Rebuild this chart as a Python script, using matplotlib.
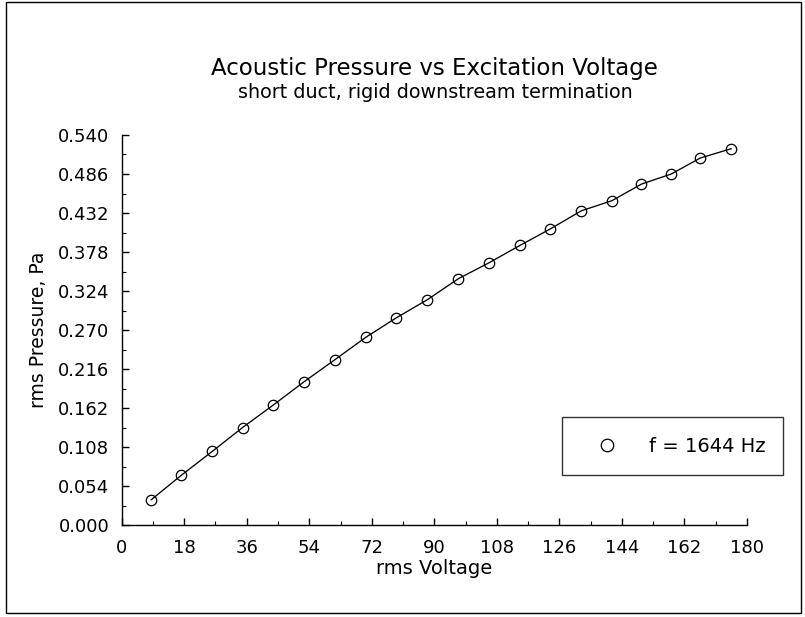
import matplotlib
matplotlib.use("Agg")
import matplotlib.pyplot as plt
from matplotlib.patches import Rectangle
from matplotlib.ticker import MultipleLocator

# --- DATA ---
voltage = [8.5, 17.2, 26.1, 34.8, 43.6, 52.4, 61.4, 70.3, 79.1, 88.0,
           96.9, 105.7, 114.6, 123.4, 132.3, 141.1, 149.6, 158.2, 166.5, 175.4]
pressure = [0.035, 0.069, 0.102, 0.135, 0.166, 0.198, 0.229, 0.260, 0.287, 0.312,
            0.341, 0.363, 0.387, 0.410, 0.435, 0.449, 0.472, 0.486, 0.508, 0.521]
x_ticks = [0, 18, 36, 54, 72, 90, 108, 126, 144, 162, 180]
y_ticks = [0.000, 0.054, 0.108, 0.162, 0.216, 0.270, 0.324, 0.378, 0.432, 0.486, 0.540]
series_label = "f = 1644 Hz"

plt.rcParams["font.family"] = ["DejaVu Sans"]
W, H = 805, 617
fig = plt.figure(figsize=(W / 100, H / 100), dpi=100)
ax = fig.add_axes([121.7 / W, 1 - 525 / H, (747 - 121.7) / W, 390 / H])

# line first, then open circles on top of it
ax.plot(voltage, pressure, "-", color="black", lw=0.95)
ax.plot(voltage, pressure, "o", color="black", mfc="none", ms=7.5, mew=0.9,
        label=series_label)

ax.set_xlim(0, 180)
ax.set_ylim(0, 0.540)
ax.set_xticks(x_ticks)
ax.set_yticks(y_ticks)
ax.set_xticklabels([str(t) for t in x_ticks])
ax.set_yticklabels(["%.3f" % t for t in y_ticks])
ax.xaxis.set_minor_locator(MultipleLocator(9))
ax.yaxis.set_minor_locator(MultipleLocator(0.027))

ax.spines["top"].set_visible(False)
ax.spines["right"].set_visible(False)
for s in ("left", "bottom"):
    ax.spines[s].set_linewidth(1.0)

ax.tick_params(which="major", direction="in", length=5, width=1.0,
               labelsize=13, colors="black")
ax.tick_params(which="minor", direction="in", length=3, width=0.8)
ax.tick_params(axis="y", which="major", pad=9)
ax.tick_params(axis="x", which="major", pad=10)

ax.set_xlabel("rms Voltage", fontsize=14)
ax.xaxis.set_label_coords(0.5, (525 - 568) / 390)
ax.xaxis.label.set_va("center")
ax.set_ylabel("rms Pressure, Pa", fontsize=13.5)
ax.yaxis.set_label_coords((38.5 - 121.7) / 625.3, 0.5)
ax.yaxis.label.set_va("center")

fig.text(434 / W, 1 - 68 / H, "Acoustic Pressure vs Excitation Voltage",
         ha="center", va="center", fontsize=16.5)
fig.text(435 / W, 1 - 93 / H, "short duct, rigid downstream termination",
         ha="center", va="center", fontsize=13.8)

leg = ax.legend(loc="lower left", mode="expand",
                bbox_to_anchor=(562 / W, 1 - 475 / H, 221 / W, 57 / H),
                bbox_transform=fig.transFigure, borderaxespad=0,
                fontsize=14, frameon=True, fancybox=False, borderpad=1.0,
                handlelength=2.6, handletextpad=0.89, markerscale=1.2)
leg.get_frame().set_edgecolor("black")
leg.get_frame().set_linewidth(1.0)

# outer page frame
fig.patches.append(Rectangle((6 / W, 1 - 613 / H), (801 - 6) / W, (613 - 2) / H,
                             transform=fig.transFigure, fill=False,
                             edgecolor="black", lw=1.0))

fig.savefig("out.png", dpi=100)
